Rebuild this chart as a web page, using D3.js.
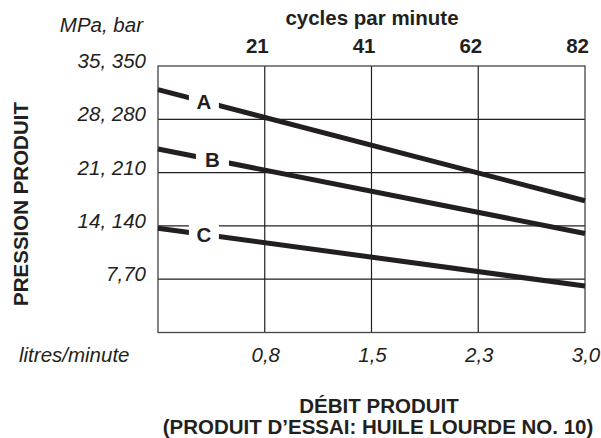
<!DOCTYPE html>
<html>
<head>
<meta charset="utf-8">
<script src="https://cdn.jsdelivr.net/npm/d3@7"></script>
<style>
  html, body { margin: 0; padding: 0; background: #fff; }
  svg { display: block; font-family: "Liberation Sans", Arial, Helvetica, sans-serif; }
</style>
</head>
<body>
<svg id="chart" width="601" height="438"></svg>
<script>
// ---- data ----
const flowIndex = [0, 1, 2, 3, 4];
const flowLabels = ["", "0,8", "1,5", "2,3", "3,0"];          // litres/minute
const cycleLabels = ["", "21", "41", "62", "82"];             // cycles par minute
const pressureTicks = [7, 14, 21, 28, 35];                     // MPa
const pressureLabels = ["7,70", "14, 140", "21, 210", "28, 280", "35, 350"];
const seriesNames = ["A", "B", "C"];
const seriesX = [0, 4];
const seriesA = [31.9, 17.3];
const seriesB = [24.1, 13.0];
const seriesC = [13.7, 6.1];
const labelPos = [0.43, 0.51, 0.43];

// ---- layout ----
const svg = d3.select("#chart");
const pLeft = 158, pRight = 585, pTop = 66, pBottom = 332.5;
const x = d3.scaleLinear().domain([0, 4]).range([pLeft, pRight]);
const y = d3.scaleLinear().domain([0, 35]).range([pBottom, pTop]);
const ink = "#231f20";
const fs = 20.5;

// grid
const g = svg.append("g");
g.selectAll(".vg").data(flowIndex.slice(1, 4)).join("line")
  .attr("x1", d => x(d)).attr("x2", d => x(d))
  .attr("y1", pTop).attr("y2", pBottom)
  .attr("stroke", ink).attr("stroke-width", 1.2);
g.selectAll(".hg").data(pressureTicks.slice(0, 4)).join("line")
  .attr("x1", pLeft).attr("x2", pRight)
  .attr("y1", d => y(d)).attr("y2", d => y(d))
  .attr("stroke", ink).attr("stroke-width", 1.2);
g.append("rect").attr("x", pLeft).attr("y", pTop)
  .attr("width", pRight - pLeft).attr("height", pBottom - pTop)
  .attr("fill", "none").attr("stroke", "#444").attr("stroke-width", 1.3);

// series lines
const series = [seriesA, seriesB, seriesC];
const line = d3.line().x((d, i) => x(seriesX[i])).y(d => y(d));
svg.selectAll(".series").data(series).join("path")
  .attr("d", d => line(d))
  .attr("fill", "none").attr("stroke", ink).attr("stroke-width", 5);

// series labels with white background
function valAt(s, t) { return s[0] + (s[1] - s[0]) * (t - seriesX[0]) / (seriesX[1] - seriesX[0]); }
series.forEach((s, i) => {
  const cx = x(labelPos[i]), cy = y(valAt(s, labelPos[i]));
  const w = i === 1 ? 33 : 30;
  svg.append("rect").attr("x", cx - w / 2).attr("y", cy - 12).attr("width", w).attr("height", 24).attr("fill", "#fff");
  svg.append("text").attr("x", cx).attr("y", cy + 7.5).attr("text-anchor", "middle")
    .attr("font-weight", "bold").attr("font-size", fs).attr("fill", ink).text(seriesNames[i]);
});

// y tick labels
svg.selectAll(".yl").data(pressureTicks).join("text")
  .attr("x", 146).attr("y", d => y(d) + 2)
  .attr("text-anchor", "end").attr("font-style", "italic").attr("font-size", fs).attr("fill", ink)
  .text((d, i) => pressureLabels[i]);
svg.append("text").attr("x", 143).attr("y", 32).attr("text-anchor", "end")
  .attr("font-style", "italic").attr("font-size", fs).attr("fill", ink).text("MPa, bar");

// top axis labels
svg.selectAll(".tl").data(flowIndex.slice(1)).join("text")
  .attr("x", d => x(d) + 4).attr("y", 53)
  .attr("text-anchor", "end").attr("font-weight", "bold").attr("font-size", fs).attr("fill", ink)
  .text(d => cycleLabels[d]);
svg.append("text").attr("x", 372).attr("y", 25).attr("text-anchor", "middle")
  .attr("font-weight", "bold").attr("font-size", fs).attr("fill", ink).text("cycles par minute");

// bottom labels
svg.selectAll(".bl").data(flowIndex.slice(1)).join("text")
  .attr("x", d => x(d) + 1).attr("y", 362)
  .attr("text-anchor", "middle").attr("font-style", "italic").attr("font-size", fs).attr("fill", ink)
  .text(d => flowLabels[d]);
svg.append("text").attr("x", 19).attr("y", 362)
  .attr("font-style", "italic").attr("font-size", fs).attr("fill", ink).text("litres/minute");

svg.append("text").attr("x", 379).attr("y", 413).attr("text-anchor", "middle")
  .attr("font-weight", "bold").attr("font-size", fs).attr("fill", ink).text("DÉBIT PRODUIT");
svg.append("text").attr("x", 378).attr("y", 434).attr("text-anchor", "middle")
  .attr("font-weight", "bold").attr("font-size", fs).attr("fill", ink).text("(PRODUIT D’ESSAI: HUILE LOURDE NO. 10)");

// y title
svg.append("text").attr("transform", "translate(28,204) rotate(-90)")
  .attr("text-anchor", "middle").attr("font-weight", "bold").attr("font-size", fs).attr("fill", ink)
  .text("PRESSION PRODUIT");
</script>
</body>
</html>
